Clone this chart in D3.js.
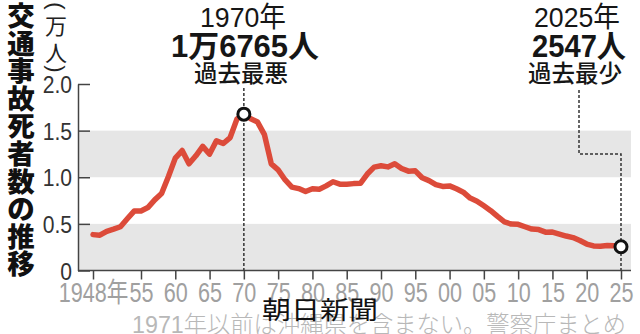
<!DOCTYPE html>
<html><head><meta charset="utf-8">
<script src="https://cdn.jsdelivr.net/npm/d3@7"></script>
<style>
html,body{margin:0;padding:0;background:#fff;}
svg{display:block;font-family:"Liberation Sans","Noto Sans CJK JP",sans-serif;}
</style></head>
<body>
<svg id="c" width="640" height="334"></svg>
<script>
// ---- data ----
const years = d3.range(1948, 2026);
const deaths = [3848,3790,4202,4429,4696,5544,6374,6379,6751,7575,8248,10079,12055,12865,11445,12301,13318,12484,13904,13618,14256,16257,16765,16278,15918,14574,11432,10792,9734,8945,8783,8466,8760,8719,9073,9520,9262,9261,9317,9347,10344,11086,11227,11109,11452,10945,10653,10684,9943,9642,9214,9012,9073,8757,8396,7768,7436,6937,6415,5796,5209,4979,4948,4691,4438,4388,4113,4117,3904,3694,3532,3215,2839,2636,2610,2678,2663,2547];
const xTicks = [1948,1955,1960,1965,1970,1975,1980,1985,1990,1995,2000,2005,2010,2015,2020,2025];
const yTicks = [0,0.5,1.0,1.5,2.0];
const titleChars = ["交","通","事","故","死","者","数","の","推","移"];
const unitChars = ["万","人"];
const peak = {year:1970, lines:["1970年","1万6765人","過去最悪"]};
const low = {year:2025, lines:["2025年","2547人","過去最少"]};
const footnote = "1971年以前は沖縄県を含まない。警察庁まとめ";
const credit = "朝日新聞";

const svg = d3.select("#c");
const x = d3.scaleLinear().domain([1948,2025]).range([93,621]);
const y = d3.scaleLinear().domain([0,2]).range([270.5,84]);
const left = 78, right = 631;

function condense(sel, k){
  sel.each(function(){
    const len = this.getComputedTextLength();
    d3.select(this).attr("textLength", len*k).attr("lengthAdjust","spacingAndGlyphs");
  });
}

// bands
[[0,0.5],[1.0,1.5]].forEach(b=>{
  svg.append("rect").attr("x",left).attr("width",right-left)
    .attr("y",y(b[1])).attr("height",y(b[0])-y(b[1])).attr("fill","#e6e6e6");
});

// y axis
const ya = svg.append("g").attr("transform",`translate(${left},0)`)
  .call(d3.axisLeft(y).tickValues(yTicks).tickSize(-12).tickSizeOuter(0).tickPadding(6)
    .tickFormat(d=> d===0 ? "0" : d.toFixed(1)));
ya.select(".domain").attr("stroke","#444").attr("stroke-width",1.5);
ya.selectAll(".tick line").attr("stroke","#444").attr("stroke-width",1.5);
ya.selectAll(".tick text").attr("font-size",24).attr("fill","#333")
  .attr("font-family","Liberation Sans").attr("dy","0.36em");
condense(ya.selectAll(".tick text"),0.88);

// x axis
const xa = svg.append("g").attr("transform",`translate(0,${y(0)})`)
  .call(d3.axisBottom(x).tickValues(xTicks).tickSize(9).tickSizeOuter(0).tickPadding(3)
    .tickFormat(d=> d===1948 ? "1948年" : String(d%100).padStart(2,"0")));
xa.select(".domain").remove();
xa.selectAll(".tick line").attr("stroke","#444").attr("stroke-width",1.5);
xa.selectAll(".tick text").attr("font-size",27).attr("fill","#a0a0a0")
  .attr("font-family","Liberation Sans, Noto Sans CJK JP");
condense(xa.selectAll(".tick text"),0.8);
svg.append("line").attr("x1",left).attr("x2",right).attr("y1",y(0)).attr("y2",y(0))
  .attr("stroke","#444").attr("stroke-width",1.5);

// leader lines
const dash = {stroke:"#333","stroke-width":1.5,"stroke-dasharray":"3,2",fill:"none"};
const l1 = svg.append("line").attr("x1",x(peak.year)).attr("x2",x(peak.year)).attr("y1",88).attr("y2",y(0));
const l2 = svg.append("path").attr("d",`M579,90V154H${x(low.year)}V${y(0)}`);
[l1,l2].forEach(s=>Object.entries(dash).forEach(([k,v])=>s.attr(k,v)));

// line
const data = years.map((yr,i)=>({year:yr,v:deaths[i]/10000}));
svg.append("path").datum(data)
  .attr("d", d3.line().x(d=>x(d.year)).y(d=>y(d.v)))
  .attr("fill","none").attr("stroke","#dc4b3a").attr("stroke-width",5.5)
  .attr("stroke-linejoin","round").attr("stroke-linecap","round");

// markers
[peak,low].forEach(p=>{
  const d = data.find(e=>e.year===p.year);
  svg.append("circle").attr("cx",x(d.year)).attr("cy",y(d.v)).attr("r",6)
    .attr("fill","#fff").attr("stroke","#111").attr("stroke-width",3);
});

// annotations
function annot(p, cx, w2){
  const g = svg.append("g").attr("fill","#161616").attr("text-anchor","middle");
  g.append("text").attr("x",cx).attr("y",27).attr("font-size",28).text(p.lines[0])
    .attr("textLength",86).attr("lengthAdjust","spacingAndGlyphs");
  g.append("text").attr("x",cx+2).attr("y",57).attr("font-size",31).attr("font-weight",700).text(p.lines[1])
    .attr("textLength",w2).attr("lengthAdjust","spacingAndGlyphs");
  g.append("text").attr("x",cx-2).attr("y",82).attr("font-size",23.5)
    .attr("font-family","Noto Sans CJK JP").attr("font-weight",500).text(p.lines[2]);
}
annot(peak, 243, 148);
annot(low, 577, 94);

// vertical title
titleChars.forEach((c,i)=>{
  svg.append("text").attr("x",21).attr("y",14+i*27.6).attr("font-size",27.5)
    .attr("font-family","Noto Sans CJK JP").attr("font-weight",900)
    .attr("text-anchor","middle").attr("dominant-baseline","central").attr("fill","#111").text(c);
});
// unit (万人)
const ug = svg.append("g").attr("fill","#222").attr("text-anchor","middle");
ug.append("text").attr("transform","translate(56,6) rotate(90)").attr("font-size",22)
  .attr("dominant-baseline","central").attr("font-weight",300).text("(");
unitChars.forEach((c,i)=>{
  ug.append("text").attr("x",56).attr("y",24+i*27).attr("font-size",22)
    .attr("font-family","Noto Sans CJK JP").attr("font-weight",400)
    .attr("dominant-baseline","central").text(c);
});
ug.append("text").attr("transform","translate(56,69) rotate(90)").attr("font-size",22)
  .attr("dominant-baseline","central").attr("font-weight",300).text(")");

// footnote and credit
svg.append("text").attr("x",626).attr("y",333).attr("text-anchor","end")
  .attr("font-size",24).attr("fill","#b8b8b8")
  .attr("font-family","Liberation Sans, Noto Sans CJK JP").attr("font-weight",300)
  .attr("textLength",494).attr("lengthAdjust","spacingAndGlyphs").text(footnote);
svg.append("text").attr("x",320).attr("y",319).attr("text-anchor","middle")
  .attr("font-size",25).attr("fill","#111").attr("font-family","Noto Sans CJK JP")
  .attr("textLength",116).attr("lengthAdjust","spacingAndGlyphs").text(credit);
</script>
</body></html>
